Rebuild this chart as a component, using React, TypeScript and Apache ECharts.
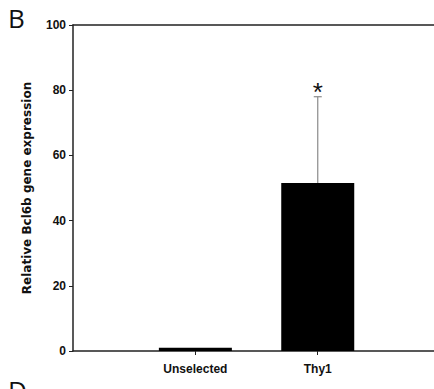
import React, { useEffect, useRef } from "react";
import * as echarts from "echarts";

const categories = ["Unselected", "Thy1"];
const positions = [1, 2];
const means = [1, 51.5];
const upperErrors = [null, 78];
const significance = ["", "*"];
const yTicks = [0, 20, 40, 60, 80, 100];

export default function App() {
  const ref = useRef<HTMLDivElement>(null);
  useEffect(() => {
    const chart = echarts.init(ref.current!, null, { renderer: "svg" });
    const barData = positions.map((p, i) => [p, means[i]]);
    const errData = positions
      .map((p, i) => (upperErrors[i] == null ? null : [p, means[i], upperErrors[i], i]))
      .filter((d) => d) as number[][];
    const labelFont = "'Liberation Sans Narrow', 'Liberation Sans', Arial, sans-serif";
    chart.setOption({
      animation: false,
      grid: { left: 73, top: 25, bottom: 38, right: 0 },
      xAxis: [
        {
          type: "value",
          min: 0,
          max: 2.95,
          interval: 1,
          splitLine: { show: false },
          axisLine: { show: true, lineStyle: { color: "#222", width: 1.5 } },
          axisTick: { show: true, customValues: positions, length: 4, lineStyle: { color: "#222" } },
          axisLabel: {
            customValues: positions,
            formatter: (v: number) => {
              const i = positions.indexOf(v);
              return i >= 0 ? categories[i] : "";
            },
            color: "#111",
            fontWeight: "bold",
            fontSize: 12,
            fontFamily: labelFont,
            margin: 12,
          },
        },
        {
          type: "value",
          position: "top",
          min: 0,
          max: 2.95,
          splitLine: { show: false },
          axisLine: { show: true, lineStyle: { color: "#222", width: 1.5 } },
          axisTick: { show: false },
          axisLabel: { show: false },
        },
      ],
      yAxis: {
        type: "value",
        min: yTicks[0],
        max: yTicks[yTicks.length - 1],
        interval: 20,
        splitLine: { show: false },
        axisLine: { show: true, lineStyle: { color: "#222", width: 1.5 } },
        axisTick: { show: true, length: 4, lineStyle: { color: "#222" } },
        axisLabel: {
          color: "#111",
          fontWeight: "bold",
          fontSize: 12,
          fontFamily: labelFont,
          margin: 7,
        },
        name: "Relative Bcl6b gene expression",
        nameLocation: "middle",
        nameGap: 40,
        nameTextStyle: {
          color: "#111",
          fontWeight: "bold",
          fontSize: 12,
          fontFamily: "'DejaVu Sans', Arial, sans-serif",
        },
      },
      series: [
        {
          type: "bar",
          data: barData,
          barWidth: 73,
          itemStyle: { color: "#000" },
        },
        {
          type: "custom",
          data: errData,
          encode: { x: 0, y: 2 },
          z: 3,
          renderItem: (params: any, api: any) => {
            const x = api.value(0);
            const base = api.coord([x, api.value(1)]);
            const top = api.coord([x, api.value(2)]);
            const idx = api.value(3);
            const cap = 4;
            return {
              type: "group",
              children: [
                {
                  type: "line",
                  shape: { x1: base[0], y1: base[1], x2: top[0], y2: top[1] },
                  style: { stroke: "#8a8a8a", lineWidth: 1.2 },
                },
                {
                  type: "line",
                  shape: { x1: top[0] - cap, y1: top[1], x2: top[0] + cap, y2: top[1] },
                  style: { stroke: "#8a8a8a", lineWidth: 1.2 },
                },
                {
                  type: "text",
                  style: {
                    text: significance[idx],
                    x: top[0],
                    y: top[1] + 8,
                    align: "center",
                    verticalAlign: "bottom",
                    fontSize: 26,
                    fontFamily: "'Liberation Sans', Arial, sans-serif",
                    fill: "#111",
                  },
                },
              ],
            };
          },
        },
      ],
      graphic: [
        {
          type: "text",
          left: 8,
          top: 5,
          style: {
            text: "B",
            fontSize: 26,
            fontFamily: "'Open Sans', 'Noto Sans', sans-serif",
            fill: "#111",
          },
        },
        {
          type: "text",
          left: 8,
          top: 377,
          style: {
            text: "D",
            fontSize: 26,
            fontFamily: "'Open Sans', 'Noto Sans', sans-serif",
            fill: "#111",
          },
        },
      ],
    });
    return () => chart.dispose();
  }, []);
  return <div ref={ref} style={{ width: 434, height: 389, position: "absolute", left: 0, top: 0 }} />;
}
